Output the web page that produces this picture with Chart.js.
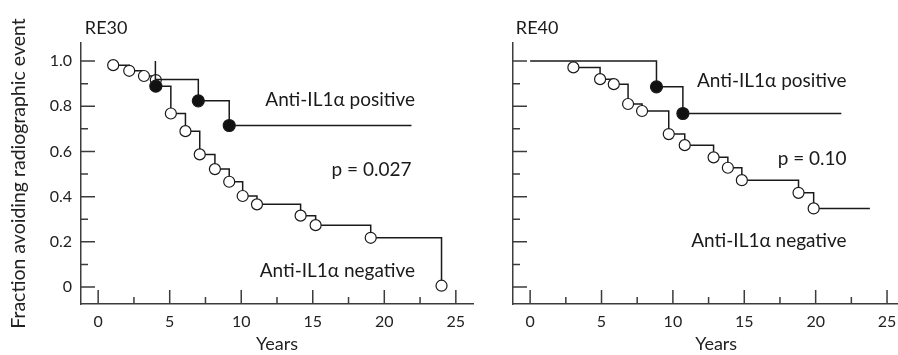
<!DOCTYPE html>
<html>
<head>
<meta charset="utf-8">
<script src="https://cdn.jsdelivr.net/npm/chart.js@4.4.1/dist/chart.umd.min.js"></script>
<style>
  html, body { margin: 0; padding: 0; background: #fff; overflow: hidden; }
  #wrap { position: relative; width: 898px; height: 355px; overflow: hidden; }
  #re30Wrap { position: absolute; left: 0; top: 0; width: 480px; height: 355px; }
  #re40Wrap { position: absolute; left: 480px; top: 0; width: 446px; height: 355px; }
</style>
</head>
<body>
<div id="wrap">
  <div id="re30Wrap"><canvas id="re30Chart"></canvas></div>
  <div id="re40Wrap"><canvas id="re40Chart"></canvas></div>
</div>
<script>
// axis tick labels
const yearLabels = [0, 5, 10, 15, 20, 25];
const fractionLabels = [0, 0.2, 0.4, 0.6, 0.8, 1.0];

// RE30 panel ('' = no marker on that point)
const re30PosYears = [4, 4, 7, 9.16, 21.9];
const re30PosFrac = [1.0, 0.919, 0.824, 0.715, 0.715];
const re30PosMarks = ['', '', 'filled', 'filled', ''];

const re30NegYears = [1.05, 2.17, 3.2, 4.03, 4.03, 5.08, 6.1, 7.1, 8.16, 9.16, 10.1, 11.1, 14.15, 15.2, 19.05, 24.0];
const re30NegFrac = [0.982, 0.957, 0.934, 0.916, 0.889, 0.768, 0.69, 0.587, 0.522, 0.466, 0.403, 0.366, 0.316, 0.274, 0.218, 0.006];
const re30NegMarks = ['open', 'open', 'open', 'open', 'filled', 'open', 'open', 'open', 'open', 'open', 'open', 'open', 'open', 'open', 'open', 'open'];

// RE40 panel
const re40PosYears = [0, 8.85, 10.7, 21.8];
const re40PosFrac = [1.0, 0.886, 0.768, 0.768];
const re40PosMarks = ['', 'filled', 'filled', ''];

const re40NegYears = [3.03, 4.9, 5.86, 6.86, 7.84, 9.71, 10.83, 12.85, 13.85, 14.83, 18.8, 19.86, 23.8];
const re40NegFrac = [0.972, 0.920, 0.898, 0.810, 0.779, 0.677, 0.628, 0.574, 0.528, 0.473, 0.417, 0.348, 0.348];
const re40NegMarks = ['open', 'open', 'open', 'open', 'open', 'open', 'open', 'open', 'open', 'open', 'open', 'open', ''];

const lineColor = '#1a1a1a';
const axisColor = '#3c3c3c';
const fontFamily = "Lato, 'Open Sans', sans-serif";

Chart.defaults.font.family = fontFamily;
Chart.defaults.color = '#222';

function kmDataset(years, frac, marks) {
    return {
        data: years.map((x, i) => ({ x: x, y: frac[i] })),
        showLine: true,
        stepped: 'before',
        borderColor: lineColor,
        borderWidth: 1.5,
        pointRadius: marks.map(m => m === '' ? 0 : (m === 'filled' ? 6 : 5.5)),
        pointBackgroundColor: marks.map(m => m === 'filled' ? '#111' : '#fff'),
        pointBorderColor: lineColor,
        pointBorderWidth: 1.2,
        pointHoverRadius: 0
    };
}

// ticks point inwards, long on labelled values
const inwardTicks = {
    id: 'inwardTicks',
    afterDraw(chart) {
        const ctx = chart.ctx;
        const area = chart.chartArea;
        const xs = chart.scales.x;
        const ys = chart.scales.y;
        ctx.save();
        ctx.strokeStyle = axisColor;
        ctx.lineWidth = 1.5;
        ctx.beginPath();
        xs.ticks.forEach(t => {
            const px = xs.getPixelForValue(t.value);
            const len = yearLabels.includes(t.value) ? 14 : 7;
            ctx.moveTo(px, area.bottom);
            ctx.lineTo(px, area.bottom - len);
        });
        ys.ticks.forEach(t => {
            const py = ys.getPixelForValue(t.value);
            const major = fractionLabels.some(f => Math.abs(f - t.value) < 1e-6);
            ctx.moveTo(area.left, py);
            ctx.lineTo(area.left + (major ? 14 : 7), py);
        });
        ctx.stroke();
        ctx.restore();
    }
};

const panelText = {
    id: 'panelText',
    afterDraw(chart, args, opts) {
        const ctx = chart.ctx;
        const xs = chart.scales.x;
        const ys = chart.scales.y;
        ctx.save();
        ctx.fillStyle = lineColor;
        ctx.textBaseline = 'alphabetic';
        (opts.items || []).forEach(item => {
            ctx.font = (item.size || 19) + 'px ' + fontFamily;
            ctx.textAlign = item.align || 'right';
            ctx.fillText(item.text, xs.getPixelForValue(item.x), ys.getPixelForValue(item.y));
        });
        ctx.restore();
    }
};

function makePanel(canvasId, datasets, opt) {
    const ctx = document.getElementById(canvasId).getContext('2d');
    return new Chart(ctx, {
        type: 'scatter',
        data: { datasets: datasets },
        plugins: [inwardTicks, panelText],
        options: {
            responsive: true,
            maintainAspectRatio: false,
            animation: false,
            events: [],
            layout: { padding: { top: 43, right: opt.padRight, left: 0, bottom: 0 } },
            plugins: {
                legend: { display: false },
                tooltip: { enabled: false },
                panelText: { items: opt.texts }
            },
            scales: {
                x: {
                    type: 'linear',
                    min: -1.2,
                    max: opt.xMax,
                    afterFit: s => { s.height = 51; },
                    grid: { drawOnChartArea: false, drawTicks: false },
                    border: { color: axisColor, width: 1.5 },
                    ticks: {
                        stepSize: 2.5,
                        includeBounds: false,
                        autoSkip: false,
                        maxRotation: 0,
                        padding: 8,
                        font: { size: 16 },
                        callback: v => yearLabels.includes(v) ? String(v) : ''
                    },
                    title: {
                        display: true,
                        text: 'Years',
                        font: { size: 18 },
                        padding: { top: 0, bottom: 0 }
                    }
                },
                y: {
                    type: 'linear',
                    min: -0.075,
                    max: 1.08,
                    afterFit: s => { s.width = opt.yWidth; },
                    grid: { drawOnChartArea: false, drawTicks: false },
                    border: { color: axisColor, width: 1.5 },
                    ticks: {
                        display: opt.yLabels,
                        stepSize: 0.1,
                        includeBounds: false,
                        autoSkip: false,
                        padding: 9,
                        font: { size: 16 },
                        callback: v => {
                            const f = fractionLabels.find(f => Math.abs(f - v) < 1e-6);
                            if (f === undefined) return '';
                            return f === 0 ? '0' : f.toFixed(1);
                        }
                    },
                    title: {
                        display: opt.yLabels,
                        text: 'Fraction avoiding radiographic event',
                        font: { size: 19.5 },
                        padding: { top: 7, bottom: 0 }
                    }
                }
            }
        }
    });
}

makePanel('re30Chart', [
    kmDataset(re30PosYears, re30PosFrac, re30PosMarks),
    kmDataset(re30NegYears, re30NegFrac, re30NegMarks)
], {
    xMax: 26.2,
    padRight: 7,
    yWidth: 81,
    yLabels: true,
    texts: [
        { text: 'RE30', x: -0.93, y: 1.12, align: 'left', size: 18 },
        { text: 'Anti-IL1\u03b1 positive', x: 22.15, y: 0.801 },
        { text: 'p = 0.027', x: 21.9, y: 0.491 },
        { text: 'Anti-IL1\u03b1 negative', x: 22.15, y: 0.043 }
    ]
});

makePanel('re40Chart', [
    kmDataset(re40PosYears, re40PosFrac, re40PosMarks),
    kmDataset(re40NegYears, re40NegFrac, re40NegMarks)
], {
    xMax: 27.26,
    padRight: 0,
    yWidth: 33,
    yLabels: false,
    texts: [
        { text: 'RE40', x: -1.0, y: 1.12, align: 'left', size: 18 },
        { text: 'Anti-IL1\u03b1 positive', x: 22.17, y: 0.884 },
        { text: 'p = 0.10', x: 22.17, y: 0.540 },
        { text: 'Anti-IL1\u03b1 negative', x: 22.17, y: 0.176 }
    ]
});
</script>
</body>
</html>
